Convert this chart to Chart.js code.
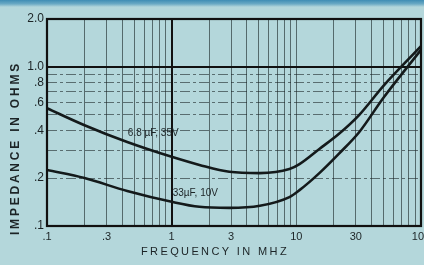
<!DOCTYPE html>
<html><head><meta charset="utf-8">
<script src="https://cdn.jsdelivr.net/npm/chart.js@4.4.0/dist/chart.umd.min.js"></script>
<style>html,body{margin:0;padding:0;background:#b4d7db;overflow:hidden}</style>
</head><body>
<canvas id="c" width="424" height="265"></canvas>
<script>
// ---- data ----
const freqMHz        = [0.1, 0.2, 0.44, 1, 1.67, 2.9, 5.1, 8.8, 10.6, 15.3, 22, 32, 50, 100];
const impedance68uF  = [0.55, 0.43, 0.337, 0.272, 0.242, 0.219, 0.215, 0.228, 0.245, 0.305, 0.38, 0.50, 0.76, 1.35];
const impedance33uF  = [0.225, 0.200, 0.166, 0.142, 0.132, 0.130, 0.134, 0.152, 0.168, 0.215, 0.285, 0.39, 0.64, 1.28];
const seriesNames    = ['6.8 µF, 35V', '33µF, 10V'];
const labelFreq      = [0.445, 1.02];
const labelImp       = [0.385, 0.161];
const xLabelValues   = [0.1, 0.3, 1, 3, 10, 30, 100];
const xLabelTexts    = ['.1', '.3', '1', '3', '10', '30', '100'];
const yLabelValues   = [0.1, 0.2, 0.4, 0.6, 0.8, 1.0, 2.0];
const yLabelTexts    = ['.1', '.2', '.4', '.6', '.8', '1.0', '2.0'];
const yGridValues    = [0.1, 0.2, 0.3, 0.4, 0.5, 0.6, 0.7, 0.8, 0.9, 1.0, 2.0];
const xTitle = 'FREQUENCY IN MHZ';
const yTitle = 'IMPEDANCE IN OHMS';

const INK = '#1c2426';
const near = (a, b) => Math.abs(a - b) / b < 1e-6;
function labelFor(vals, texts, v) { const i = vals.findIndex(a => near(v, a)); return i >= 0 ? texts[i] : ''; }

const pts = arr => freqMHz.map((f, i) => ({ x: f, y: arr[i] }));

const bgPlugin = {
  id: 'bg',
  beforeDraw(chart) {
    const ctx = chart.ctx, W = chart.width, H = chart.height;
    ctx.save();
    ctx.fillStyle = '#b4d7db';
    ctx.fillRect(0, 0, W, H);
    const g = ctx.createLinearGradient(0, 0, 0, 7);
    g.addColorStop(0, '#3f8db4'); g.addColorStop(0.55, '#6aa9c4'); g.addColorStop(1, '#b4d7db');
    ctx.fillStyle = g; ctx.fillRect(0, 0, W, 7);
    ctx.restore();
  },
  afterDraw(chart) {
    const ctx = chart.ctx, a = chart.chartArea;
    ctx.save();
    ctx.strokeStyle = '#111'; ctx.lineWidth = 2.2;
    ctx.strokeRect(a.left, a.top, a.right - a.left, a.bottom - a.top);
    // axis titles
    ctx.fillStyle = INK;
    function spaced(text, font, target) {
      ctx.font = font; ctx.letterSpacing = '0px';
      const w0 = ctx.measureText(text).width;
      ctx.letterSpacing = ((target - w0) / text.length) + 'px';
    }
    ctx.textAlign = 'center'; ctx.textBaseline = 'middle';
    spaced(xTitle, '11px "Liberation Sans", Arial, sans-serif', 148);
    ctx.fillText(xTitle, 215, 252);
    ctx.save();
    ctx.translate(16, 148); ctx.rotate(-Math.PI / 2);
    spaced(yTitle, 'bold 12px "Liberation Sans", Arial, sans-serif', 174);
    ctx.fillText(yTitle, 0, 0);
    ctx.restore();
    // curve labels anchored on data coordinates
    ctx.letterSpacing = '0px';
    ctx.font = '10px "Liberation Sans", Arial, sans-serif';
    ctx.textAlign = 'left';
    const xs = chart.scales.x, ys = chart.scales.y;
    seriesNames.forEach((t, i) => {
      ctx.fillText(t, xs.getPixelForValue(labelFreq[i]), ys.getPixelForValue(labelImp[i]));
    });
    ctx.restore();
  }
};

new Chart(document.getElementById('c'), {
  type: 'line',
  data: {
    datasets: [
      { label: seriesNames[0], data: pts(impedance68uF) },
      { label: seriesNames[1], data: pts(impedance33uF) }
    ]
  },
  options: {
    responsive: false, animation: false, devicePixelRatio: 1,
    layout: { padding: { top: 19, right: 3, left: 0, bottom: 0 } },
    elements: {
      line: { borderColor: '#141a1b', borderWidth: 2.6, cubicInterpolationMode: 'monotone', fill: false },
      point: { radius: 0 }
    },
    plugins: { legend: { display: false }, tooltip: { enabled: false } },
    scales: {
      x: {
        type: 'logarithmic', min: 0.1, max: 100,
        afterBuildTicks(s) {
          const t = [];
          for (let e = -1; e < 2; e++) for (let m = 1; m < 10; m++) t.push({ value: parseFloat((m * Math.pow(10, e)).toPrecision(3)) });
          t.push({ value: 100 });
          s.ticks = t;
        },
        afterFit(s) { s.height = 39; s.paddingLeft = 0; s.paddingRight = 0; },
        ticks: {
          autoSkip: false, maxRotation: 0, padding: 4, color: INK,
          font: { family: '"Liberation Sans", Arial, sans-serif', size: 11 },
          callback: v => labelFor(xLabelValues, xLabelTexts, v)
        },
        grid: {
          drawTicks: false,
          color: c => (c.tick && near(c.tick.value, 1)) ? '#111' : 'rgba(28,38,40,0.62)',
          lineWidth: c => (c.tick && near(c.tick.value, 1)) ? 2 : 1
        },
        border: { display: false }
      },
      y: {
        type: 'logarithmic', min: 0.1, max: 2.0,
        afterBuildTicks(s) { s.ticks = yGridValues.map(v => ({ value: v })); },
        afterFit(s) { s.width = 47; s.paddingTop = 0; s.paddingBottom = 0; },
        ticks: {
          autoSkip: false, padding: 3, color: INK,
          font: { family: '"Liberation Sans", Arial, sans-serif', size: 12 },
          callback: v => labelFor(yLabelValues, yLabelTexts, v)
        },
        grid: {
          drawTicks: false,
          color: c => (c.tick && near(c.tick.value, 1)) ? '#111' : 'rgba(28,38,40,0.6)',
          lineWidth: c => (c.tick && near(c.tick.value, 1)) ? 2 : 1
        },
        border: { display: false, dash: c => (c.tick && near(c.tick.value, 1)) ? [] : [10, 3, 3, 3] }
      }
    }
  },
  plugins: [bgPlugin]
});
</script>
</body></html>
